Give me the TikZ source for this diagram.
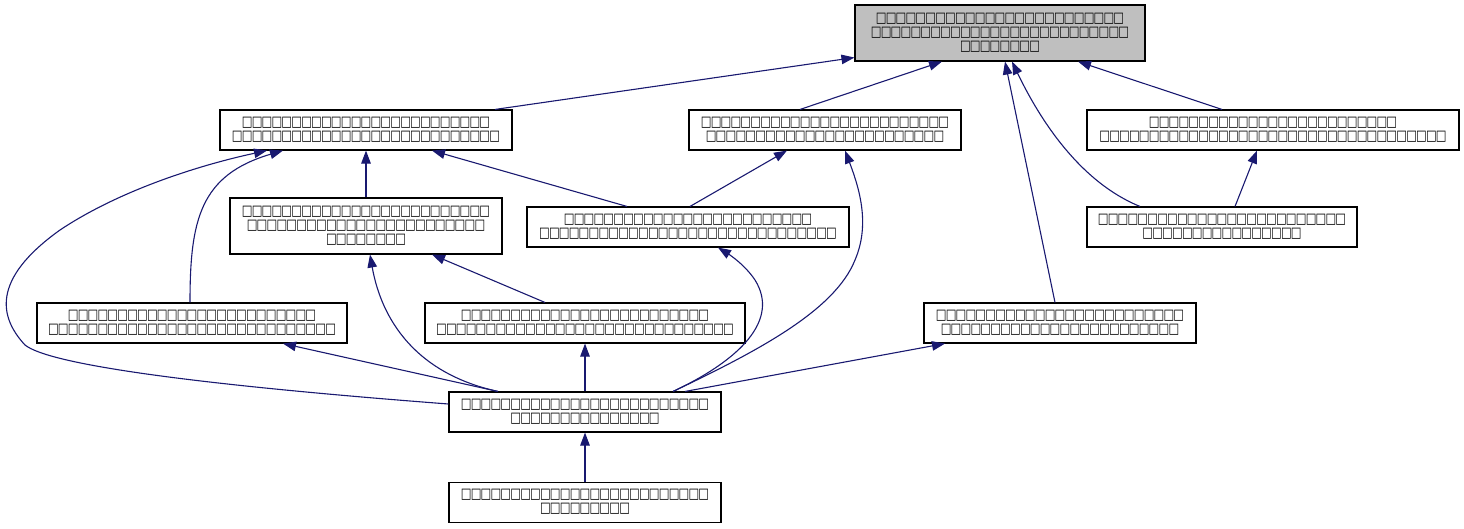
\documentclass[tikz,border=0pt]{standalone}
\usepackage{fontspec}
\newfontfamily\tofufont{DejaVu Sans}
\usetikzlibrary{arrows.meta,positioning}

\definecolor{edgeblue}{RGB}{25,25,112}
\definecolor{rootgray}{RGB}{191,191,191}

% a row of n unreadable glyphs, as the reference prints them
\newcommand\tf[1]{\foreach \k in {1,...,#1}{\makebox[9.9pt]{\scalebox{0.78}[1]{□}}}}

\begin{document}
\begin{tikzpicture}[
  x=1pt, y=-1pt,
  cls/.style={rectangle, draw, line width=1.1pt, inner sep=0pt, align=center,
    font=\tofufont\fontsize{14.5}{14}\selectfont, minimum height=40pt},
  tall/.style={minimum height=56pt},
  edge/.style={draw=edgeblue, line width=1.1pt, -{Triangle[length=13pt,width=9.5pt]}}
]
  \useasboundingbox (0,0) rectangle (1464,528);

  % top of the hierarchy
  \node[cls, tall, fill=rootgray, minimum width=290pt] (top) at (1000,33) {\tf{25}\\\tf{26}\\\tf{8}};

  % second row
  \node[cls, minimum width=292pt] (A) at (366,130) {\tf{25}\\\tf{27}};
  \node[cls, minimum width=272pt] (B) at (825,130) {\tf{25}\\\tf{24}};
  \node[cls, minimum width=372pt] (C) at (1273,130) {\tf{25}\\\tf{35}};

  % third row
  \node[cls, tall, minimum width=272pt] (D) at (366,226) {\tf{25}\\\tf{24}\\\tf{8}};
  \node[cls, minimum width=322pt] (E) at (688,227) {\tf{25}\\\tf{30}};
  \node[cls, minimum width=270pt] (F) at (1222,227) {\tf{25}\\\tf{16}};

  % fourth row
  \node[cls, minimum width=310pt] (G) at (192,323) {\tf{25}\\\tf{29}};
  \node[cls, minimum width=320pt] (H) at (585,323) {\tf{25}\\\tf{30}};
  \node[cls, minimum width=272pt] (I) at (1060,323) {\tf{25}\\\tf{24}};

  % bottom two
  \node[cls, minimum width=272pt] (J) at (585,412) {\tf{25}\\\tf{15}};
  \node[cls, minimum width=272pt] (K) [below=49pt of J] {\tf{25}\\\tf{9}};

  % straight edges (child anchor/shift, parent anchor/shift)
  \draw[edge] ([xshift=129pt]A.north) -- ([yshift=4pt]top.south west);
  \foreach \from/\fs/\to/\ts in {
      B/-25/top/-58, C/-51/top/78, I/-5/top/5, D/0/A/0,
      E/-61/A/66, E/2/B/-38, F/13/C/-16, H/-40/D/66,
      J/-87/G/91, J/0/H/0, J/100/I/-115, K/0/J/0}
    \draw[edge] ([xshift=\fs pt]\from.north) -- ([xshift=\ts pt]\to.south);

  % curved edges
  \draw[edge] ([xshift=-82pt]F.north) .. controls (1080,182) and (1040,120) .. ([xshift=12pt]top.south);
  \draw[edge] ([xshift=-2pt]G.north) .. controls (190,220) and (200,175) .. ([xshift=-83pt]A.south);
  \draw[edge] ([yshift=8pt]J.west) .. controls (200,385) and (50,365) .. (25,345)
    .. controls (0,318) and (-10,280) .. (60,230) .. controls (120,190) and (200,165) .. ([xshift=-99pt]A.south);
  \draw[edge] ([xshift=88pt]J.north) .. controls (760,350) and (835,310) .. (855,260)
    .. controls (870,225) and (860,190) .. ([xshift=20pt]B.south);
  \draw[edge] ([xshift=88pt]J.north) .. controls (740,360) and (780,320) .. (755,280)
    .. controls (745,265) and (730,255) .. ([xshift=30pt]E.south);
  \draw[edge] ([xshift=-87pt]J.north) .. controls (400,370) and (378,300) .. ([xshift=4pt]D.south);
\end{tikzpicture}
\end{document}
